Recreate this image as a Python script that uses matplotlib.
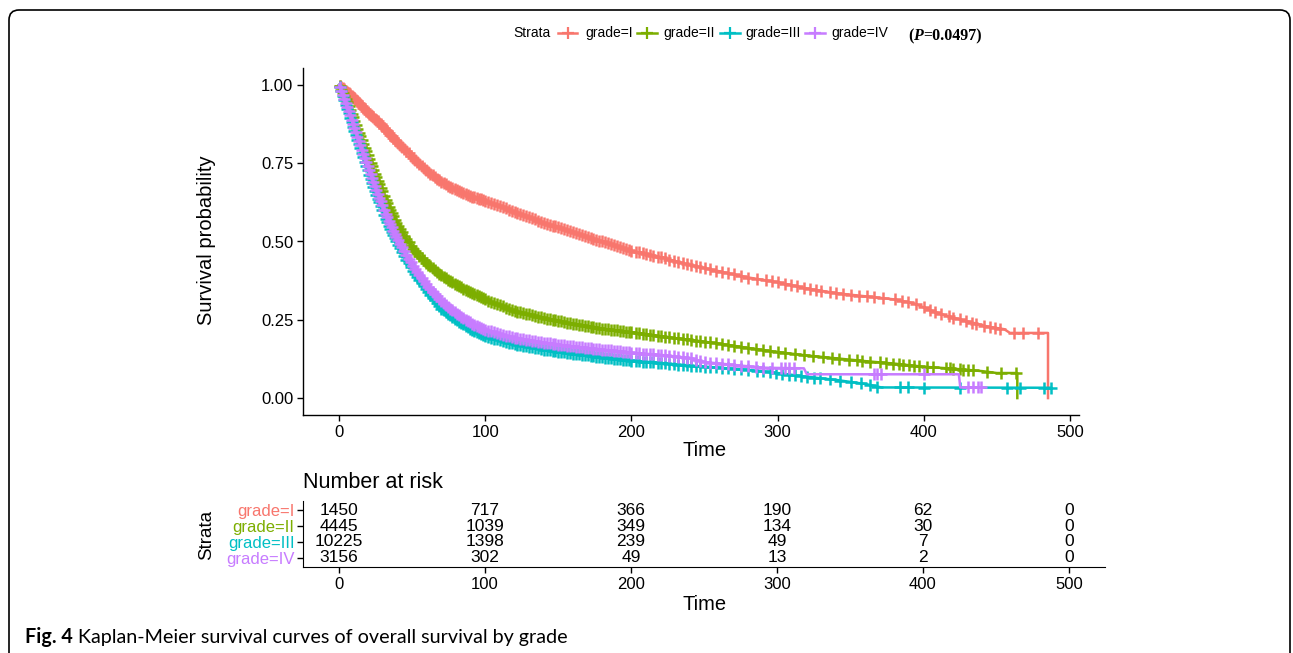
import numpy as np
import matplotlib
matplotlib.use('Agg')
import matplotlib.pyplot as plt
from matplotlib.lines import Line2D
from matplotlib.patches import FancyBboxPatch
from matplotlib.transforms import IdentityTransform

plt.rcParams['font.family'] = ['Liberation Sans', 'DejaVu Sans']

# ---------------- data ----------------
groups = ['grade=I', 'grade=II', 'grade=III', 'grade=IV']
colors = ['#F8766D', '#7CAE00', '#00BFC4', '#C77CFF']

# survival curves (repeated times = vertical drops)
t_I = [0, 5, 10, 15, 20, 25, 30, 40, 50, 60, 70, 80, 90, 100, 120, 140, 160, 180, 200,
       220, 240, 260, 280, 300, 320, 340, 360, 380, 393, 405, 416, 430, 444, 455, 459, 485, 485]
s_I = [1.0, 0.98, 0.96, 0.935, 0.91, 0.89, 0.868, 0.815, 0.77, 0.725, 0.69, 0.665, 0.645, 0.63,
       0.595, 0.56, 0.53, 0.50, 0.47, 0.45, 0.425, 0.405, 0.385, 0.37, 0.35, 0.335, 0.325, 0.315,
       0.303, 0.28, 0.262, 0.245, 0.228, 0.22, 0.208, 0.208, 0.0]

t_II = [0, 5, 10, 15, 20, 25, 30, 35, 40, 50, 60, 70, 80, 90, 100, 120, 140, 160, 180, 200,
        220, 240, 260, 280, 300, 320, 340, 360, 380, 400, 420, 440, 450, 464, 464]
s_II = [1.0, 0.95, 0.89, 0.83, 0.77, 0.71, 0.655, 0.60, 0.55, 0.48, 0.43, 0.392, 0.362, 0.337,
        0.315, 0.278, 0.256, 0.237, 0.222, 0.21, 0.197, 0.186, 0.174, 0.16, 0.147, 0.136, 0.127,
        0.118, 0.11, 0.10, 0.094, 0.086, 0.08, 0.08, 0.0]

t_III = [0, 5, 10, 15, 20, 25, 30, 35, 40, 50, 60, 70, 80, 90, 100, 120, 140, 160, 180, 200,
         220, 240, 260, 280, 300, 320, 340, 360, 371, 487]
s_III = [1.0, 0.93, 0.86, 0.79, 0.72, 0.655, 0.595, 0.54, 0.49, 0.41, 0.345, 0.285, 0.25, 0.22,
         0.198, 0.172, 0.155, 0.142, 0.13, 0.12, 0.112, 0.104, 0.097, 0.09, 0.08, 0.068, 0.058,
         0.045, 0.034, 0.033]

t_IV = [0, 5, 10, 15, 20, 25, 30, 35, 40, 50, 60, 70, 80, 90, 100, 120, 140, 160, 180, 200,
        220, 240, 250, 270, 290, 318, 320, 424, 425, 439]
s_IV = [1.0, 0.935, 0.87, 0.80, 0.735, 0.67, 0.61, 0.555, 0.505, 0.425, 0.36, 0.31, 0.27, 0.24,
        0.218, 0.192, 0.177, 0.165, 0.155, 0.145, 0.138, 0.128, 0.115, 0.106, 0.097, 0.095,
        0.076, 0.076, 0.034, 0.034]

# censoring marks: dense early part shared, sparse late part per group
cens_early = [0.5, 1.5, 2.5, 3.5, 4.5, 5.5, 6.5, 7.5, 8.5, 9.5, 10.5, 11.5, 12.5, 13.5, 14.5,
              15.5, 16.5, 17.5, 18.5, 19.5, 20.5, 21.5, 22.5, 23.5, 24.5, 25.5, 26.5, 27.5,
              28.5, 29.5, 31, 32, 33, 34, 35, 36, 37, 38, 39, 40, 41.5, 43, 44.5, 46, 47.5, 49,
              50.5, 52, 53.5, 55, 56.5, 58, 59.5, 61, 62.5, 64, 65.5, 67, 68.5, 70, 71.5, 73,
              74.5, 76, 77.5, 79, 80.5, 82, 83.5, 85, 86.5, 88, 89.5, 91, 92.5, 94, 95.5, 97,
              98.5, 100, 102, 104, 106, 108, 110, 112, 114, 116, 118, 120, 122, 124, 126, 128,
              130, 132, 134, 136, 138, 140, 142, 144, 146, 148, 150, 152, 154, 156, 158, 160,
              162, 164, 166, 168, 170, 172, 174, 176, 178, 180, 182, 184, 186, 188, 190, 192,
              194, 196, 198, 200, 203, 205, 208, 210, 213, 215, 218, 220, 223, 226, 229, 232,
              235, 238, 241, 244, 247, 250, 254, 258, 262, 266, 270, 275, 280]
cens_I = [286, 292, 296, 300, 305, 309, 313, 318, 322, 326, 330, 336, 340, 345, 350, 356, 361,
          366, 372, 380, 385, 389, 395, 400, 404, 408, 412, 417, 420, 425, 429, 433, 436, 441,
          445, 449, 452, 462, 468, 478]
cens_II = [285, 290, 295, 300, 305, 312, 318, 324, 331, 337, 342, 349, 354, 358, 363, 370, 374,
           379, 383, 386, 390, 393, 397, 402, 406, 415, 418, 420, 425, 427, 430, 434, 443, 453,
           463]
cens_III = [286, 290, 295, 299, 303, 308, 312, 316, 320, 325, 329, 336, 343, 350, 357, 363,
            368, 384, 389, 400, 425, 457, 466, 482, 487]
cens_IV = [285, 290, 296, 302, 305, 308, 311, 366, 368, 371, 400, 430, 434, 437, 439]

curves = [(t_I, s_I, cens_I), (t_II, s_II, cens_II), (t_III, s_III, cens_III), (t_IV, s_IV, cens_IV)]

# number at risk
risk_times = [0, 100, 200, 300, 400, 500]
risk_I = [1450, 717, 366, 190, 62, 0]
risk_II = [4445, 1039, 349, 134, 30, 0]
risk_III = [10225, 1398, 239, 49, 7, 0]
risk_IV = [3156, 302, 49, 13, 2, 0]
risk = [risk_I, risk_II, risk_III, risk_IV]

# ---------------- figure ----------------
W, H = 1293, 653
fig = plt.figure(figsize=(W / 100, H / 100), dpi=100)


def fx(px):
    return px / W


def fy(py):
    return 1 - py / H


# main survival panel
ax = fig.add_axes([fx(303), fy(415), (1079 - 303) / W, (415 - 68) / H])
for (t, s, c_extra), col in zip(curves, colors):
    t = np.array(t, dtype=float)
    s = np.array(s, dtype=float)
    ax.plot(t, s, color=col, lw=1.8)
    ct = np.array(cens_early + c_extra, dtype=float)
    ct = ct[ct <= t.max()]
    tt, ss = (t[:-1], s[:-1]) if s[-1] == 0 else (t, s)
    cs = np.interp(ct, tt, ss)
    ax.plot(ct, cs, ls='none', marker='+', ms=8, mew=1.8, color=col)

ax.set_xlim(-24.7, 506.2)
ax.set_ylim(-0.054, 1.054)
ax.set_xticks([0, 100, 200, 300, 400, 500])
ax.set_yticks([0, 0.25, 0.5, 0.75, 1.0])
ax.set_yticklabels(['0.00', '0.25', '0.50', '0.75', '1.00'])
for sp in ['top', 'right']:
    ax.spines[sp].set_visible(False)
for sp in ['left', 'bottom']:
    ax.spines[sp].set_linewidth(1.0)
ax.tick_params(labelsize=12, length=4, width=1, colors='black', pad=3)

fig.text(fx(705), fy(450), 'Time', ha='center', va='center', fontsize=14.5)
fig.text(fx(207), fy(240), 'Survival probability', ha='center', va='center',
         rotation=90, fontsize=14.5)

# legend on top
fig.text(fx(513), fy(33), 'Strata', ha='left', va='center', fontsize=10)
leg_pos = [(558, 577, 585), (637, 657, 663), (720, 740, 745), (805, 825, 831)]
for (x0, x1, xt), lab, col in zip(leg_pos, groups, colors):
    fig.add_artist(Line2D([fx(x0), fx(x1)], [fy(33), fy(33)], transform=fig.transFigure,
                          color=col, lw=1.8))
    fig.add_artist(Line2D([fx((x0 + x1) / 2)], [fy(33)], transform=fig.transFigure,
                          color=col, marker='+', ms=9, mew=1.6))
    fig.text(fx(xt), fy(33), lab, ha='left', va='center', fontsize=10)

renderer = fig.canvas.get_renderer()


def seq_text(x_px, y_px, parts):
    x = x_px
    for txt, kw in parts:
        t = fig.text(fx(x), fy(y_px), txt, ha='left', va='baseline', **kw)
        x += t.get_window_extent(renderer).width


serif = ['Liberation Serif', 'DejaVu Serif']
seq_text(908, 40, [('(', dict(family=serif, weight='bold', fontsize=11.5)),
                   ('P', dict(family=serif, weight='bold', style='italic', fontsize=11.5)),
                   ('=0.0497)', dict(family=serif, weight='bold', fontsize=11.5))])

# risk table
rax = fig.add_axes([fx(303), fy(567), (1105 - 303) / W, (567 - 501) / H])
ypos = [4, 3, 2, 1]
for row, yp in zip(risk, ypos):
    for xt, n in zip(risk_times, row):
        rax.text(xt, yp, str(n), ha='center', va='center', fontsize=12.5)
rax.set_xlim(-24.7, 524.7)
rax.set_ylim(0.4, 4.6)
rax.set_xticks(risk_times)
rax.set_yticks(ypos)
rax.set_yticklabels(groups)
for lab, col in zip(rax.get_yticklabels(), colors):
    lab.set_color(col)
for sp in ['top', 'right']:
    rax.spines[sp].set_visible(False)
rax.tick_params(labelsize=12, length=4, width=1, pad=3)
rax.tick_params(axis='y', pad=2)

fig.text(fx(303), fy(483), 'Number at risk', ha='left', va='center', fontsize=15.5)
fig.text(fx(705), fy(604), 'Time', ha='center', va='center', fontsize=14.5)
fig.text(fx(207), fy(535), 'Strata', ha='center', va='center', rotation=90, fontsize=13.5)

# caption
cap_font = ['Lato', 'DejaVu Sans']
seq_text(25, 643, [('Fig. 4 ', dict(family=cap_font, weight='bold', fontsize=14.2)),
                   ('Kaplan-Meier survival curves of overall survival by grade',
                    dict(family=cap_font, fontsize=14.2))])

# rounded frame (bottom edge runs off the image)
frame = FancyBboxPatch((9, -20), 1281, H - 10 + 20, boxstyle='round,pad=0,rounding_size=10',
                       transform=IdentityTransform(), fill=False, edgecolor='black', lw=1.2)
fig.add_artist(frame)

fig.savefig('out.png', dpi=100)
